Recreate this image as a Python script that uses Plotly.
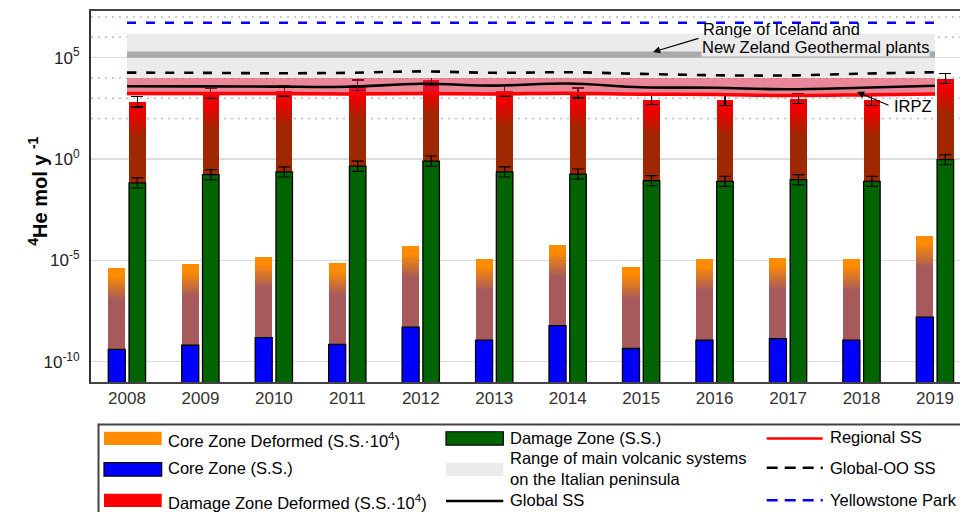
import plotly.graph_objects as go

# ---------------- data ----------------
years = [2008, 2009, 2010, 2011, 2012, 2013, 2014, 2015, 2016, 2017, 2018, 2019]
year_labels = [str(y) for y in years]

core_zone_ss = [4.1e-10, 6.5e-10, 1.55e-9, 7.2e-10, 5.1e-9, 1.17e-9, 6.0e-9, 4.5e-10,
                1.17e-9, 1.38e-9, 1.17e-9, 1.58e-8]
core_zone_def = [4.1e-6, 6.5e-6, 1.55e-5, 7.2e-6, 5.1e-5, 1.17e-5, 6.0e-5, 4.5e-6,
                 1.17e-5, 1.38e-5, 1.17e-5, 1.58e-4]
damage_zone_ss = [0.066, 0.17, 0.23, 0.44, 0.79, 0.23, 0.18, 0.085, 0.079, 0.095, 0.079, 0.93]
damage_zone_def = [660, 1700, 2300, 4400, 7900, 2300, 1800, 850, 790, 950, 790, 9300]
err_decades = 0.25  # error bars: +/- 0.25 decade

global_ss = [3890, 3800, 3715, 3630, 5130, 4170, 5250, 3470, 3240, 2750, 3240, 4070]
regional_ss = [1700, 1700, 1700, 1620, 1700, 1620, 1740, 1580, 1510, 1350, 1445, 1620]
global_oo_ss = [18200, 17800, 17000, 17800, 20900, 17800, 19050, 15850, 13500, 13200, 16200, 19050]
yellowstone = [5.25e6] * len(years)

italian_range = [1.0e4, 1.5e6]
iceland_nz_range = [1.0e5, 2.0e5]
irpz_range = [1.4e3, 1.0e4]

ytick_vals = [1e-10, 1e-5, 1, 1e5]
ytick_text = ["10<sup>-10</sup>", "10<sup>-5</sup>", "10<sup>0</sup>", "10<sup>5</sup>"]
minor_grid = [1e2, 1e3, 1e4, 1e6, 1e7]

FONT = "Liberation Sans, Arial, Helvetica, sans-serif"

# ---------------- helpers ----------------
def hex2rgb(h):
    h = h.lstrip("#")
    return tuple(int(h[i:i + 2], 16) for i in (0, 2, 4))

def lerp(c1, c2, t):
    a, b = hex2rgb(c1), hex2rgb(c2)
    return "rgb(%d,%d,%d)" % tuple(round(a[i] + (b[i] - a[i]) * t) for i in range(3))

fig = go.Figure()

X0, X1 = years[0], years[-1]
OFF_L, W_L = -0.255, 0.232
OFF_R, W_R = 0.028, 0.225

def gradient_bars(vals, top_col, bot_col, off, w, d0, d1, n=10, err=False):
    up = [v * (10 ** err_decades - 1) for v in vals]
    dn = [v * (1 - 10 ** (-err_decades)) for v in vals]
    fig.add_trace(go.Bar(
        x=years, y=vals, offset=off, width=w, marker_color=top_col,
        marker_line_width=0, showlegend=False, hoverinfo="skip",
        error_y=dict(type="data", array=up, arrayminus=dn, visible=err,
                     color="black", thickness=1.2, width=6)))
    for k in range(n + 1):
        t = k / n
        d = d0 + (d1 - d0) * t
        fig.add_trace(go.Bar(
            x=years, y=[v * 10 ** (-d) for v in vals], offset=off, width=w,
            marker_color=lerp(top_col, bot_col, t), marker_line_width=0,
            showlegend=False, hoverinfo="skip"))

gradient_bars(core_zone_def, "#FF8C00", "#A65A5C", OFF_L, W_L, 0.3, 1.5)
gradient_bars(damage_zone_def, "#F00000", "#A02800", OFF_R, W_R, 0.5, 1.7, err=True)

fig.add_trace(go.Bar(x=years, y=core_zone_ss, offset=OFF_L, width=W_L,
                     marker=dict(color="#0000FF", line=dict(color="black", width=1.3)),
                     showlegend=False, name="Core Zone (S.S.)"))
fig.add_trace(go.Bar(x=years, y=damage_zone_ss, offset=OFF_R, width=W_R,
                     marker=dict(color="#006400", line=dict(color="black", width=1.3)),
                     showlegend=False, name="Damage Zone (S.S.)",
                     error_y=dict(type="data",
                                  array=[v * (10 ** err_decades - 1) for v in damage_zone_ss],
                                  arrayminus=[v * (1 - 10 ** (-err_decades)) for v in damage_zone_ss],
                                  color="black", thickness=1.2, width=6)))

def band(rng, color):
    fig.add_trace(go.Scatter(x=[X0, X1, X1, X0, X0],
                             y=[rng[0], rng[0], rng[1], rng[1], rng[0]],
                             fill="toself", fillcolor=color, mode="lines",
                             line=dict(width=0), showlegend=False, hoverinfo="skip"))

band(italian_range, "#EBEBEB")
band(iceland_nz_range, "#AAAAAA")
band(irpz_range, "rgba(215,35,65,0.55)")

fig.add_trace(go.Scatter(x=years, y=global_oo_ss, mode="lines", showlegend=False,
                         line=dict(color="black", width=2.6, dash="9px,10px", shape="spline")))
fig.add_trace(go.Scatter(x=years, y=global_ss, mode="lines", showlegend=False,
                         line=dict(color="black", width=2.6, shape="spline")))
fig.add_trace(go.Scatter(x=years, y=regional_ss, mode="lines", showlegend=False,
                         line=dict(color="#FF0000", width=3.5, shape="spline")))
fig.add_trace(go.Scatter(x=years, y=yellowstone, mode="lines", showlegend=False,
                         line=dict(color="#0000FF", width=2.6, dash="9px,10px")))

# ---------------- layout ----------------
L, T, B = 91, 11, 129.5
W, H = 960, 512
pw, ph = W - L, H - T - B

def px(xp):
    return (xp - L) / pw

def py(yp):
    return (H - B - yp) / ph

shapes = []
for g in minor_grid:
    shapes.append(dict(type="line", xref="paper", yref="y", x0=0, x1=1, y0=g, y1=g,
                       line=dict(color="#BBBBBB", width=1.5, dash="2px,5px"), layer="below"))

AF = dict(family=FONT, size=16.5, color="black")
annotations = [
    # y-axis title
    dict(xref="paper", yref="paper", x=px(38), y=py(192), xanchor="center", yanchor="middle",
         textangle=-90, showarrow=False,
         text="<b><sup>4</sup>He mol y <sup>-1</sup></b>",
         font=dict(family=FONT, size=20, color="black")),
    dict(xref="paper", yref="paper", x=px(701), y=py(29), xanchor="left", yanchor="middle",
         text="Range of Iceland and", showarrow=False, font=AF),
    dict(xref="paper", yref="paper", x=px(701), y=py(47), xanchor="left", yanchor="middle",
         text="New Zeland Geothermal plants", showarrow=False, bgcolor="#EBEBEB", borderpad=0,
         font=AF),
    dict(xref="paper", yref="paper", x=px(653), y=py(52), ax=47, ay=-14, text="",
         showarrow=True, arrowhead=2, arrowsize=1.3, arrowwidth=1.1, arrowcolor="black"),
    dict(xref="paper", yref="paper", x=px(857), y=py(92), ax=33, ay=14, text="",
         showarrow=True, arrowhead=2, arrowsize=1.3, arrowwidth=1.1, arrowcolor="black"),
    dict(xref="paper", yref="paper", x=px(892), y=py(106), xanchor="left", yanchor="middle",
         text="IRPZ", showarrow=False, font=AF),
]

# ---------------- manual legend ----------------
LF = dict(family=FONT, size=16.5, color="black")
shapes.append(dict(type="rect", xref="paper", yref="paper", x0=px(98.5), x1=px(1000),
                   y0=py(425), y1=py(560), line=dict(color="#444444", width=2),
                   fillcolor="white", layer="above"))

def swatch(x0, x1, y0, y1, color, border=None):
    shapes.append(dict(type="rect", xref="paper", yref="paper", x0=px(x0), x1=px(x1),
                       y0=py(y0), y1=py(y1), fillcolor=color, layer="above",
                       line=dict(color=border if border else color, width=1.2 if border else 0)))

def lswatch(x0, x1, yc, color, dash=None, width=2.5):
    shapes.append(dict(type="line", xref="paper", yref="paper", x0=px(x0), x1=px(x1),
                       y0=py(yc), y1=py(yc), layer="above",
                       line=dict(color=color, width=width, dash=dash)))

def ltext(x, yc, s):
    annotations.append(dict(xref="paper", yref="paper", x=px(x), y=py(yc), xanchor="left",
                            yanchor="middle", text=s, showarrow=False, font=LF, align="left"))

swatch(104, 161.7, 432.3, 445.7, "#FF8C00")
ltext(166, 440.5, "Core Zone Deformed (S.S.·10<sup>4</sup>)")
swatch(104, 161.7, 463.3, 476.7, "#0000FF", "black")
ltext(166, 468.8, "Core Zone (S.S.)")
swatch(104, 161.7, 494.3, 507.7, "#FF0000")
ltext(166, 502.5, "Damage Zone Deformed (S.S.·10<sup>4</sup>)")

swatch(446, 503.3, 432.3, 445.7, "#006400", "black")
ltext(508, 438.5, "Damage Zone (S.S.)")
swatch(446, 503.3, 463.3, 476.7, "#EBEBEB")
ltext(508, 469, "Range of main volcanic systems<br>on the Italian peninsula")
lswatch(446, 503.3, 501.7, "black")
ltext(508, 500.5, "Global SS")

lswatch(766.7, 822.7, 439, "#FF0000")
ltext(828, 438, "Regional SS")
lswatch(766.7, 822.7, 468.3, "black", dash="11px,7px")
ltext(828, 468.5, "Global-OO SS")
lswatch(766.7, 822.7, 501, "#0000FF", dash="11px,7px")
ltext(828, 500.5, "Yellowstone Park")

fig.update_layout(
    width=W, height=H,
    margin=dict(l=L, r=0, t=T, b=B, pad=0, autoexpand=False),
    paper_bgcolor="white", plot_bgcolor="white",
    barmode="overlay", bargap=0,
    font=dict(family=FONT, size=17, color="#222222"),
    shapes=shapes, annotations=annotations,
    showlegend=False,
    xaxis=dict(range=[2007.51, 2019.34], tickmode="array", tickvals=years, ticktext=year_labels,
               showgrid=False, zeroline=False, showline=True, linecolor="#444444", linewidth=2,
               mirror=True, ticks="", automargin=False,
               tickfont=dict(family=FONT, size=17, color="#333333")),
    yaxis=dict(type="log", range=[-11, 7.3], tickmode="array", tickvals=ytick_vals,
               ticktext=ytick_text, showgrid=True, gridcolor="#DDDDDD", gridwidth=1.5,
               zeroline=False, showline=True, linecolor="#333333", linewidth=2, ticks="",
               ticklabelstandoff=6, automargin=False,
               tickfont=dict(family=FONT, size=17, color="#222222")),
)

fig.write_html("out.html", config={"displayModeBar": False, "staticPlot": True},
               post_script="document.body.style.margin='0';document.body.style.overflow='hidden';")
